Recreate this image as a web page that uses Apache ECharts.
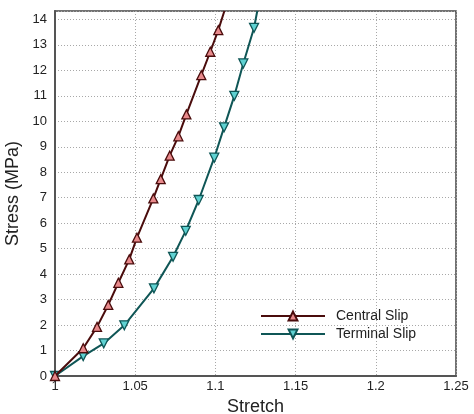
<!DOCTYPE html>
<html>
<head>
<meta charset="utf-8">
<script src="https://cdn.jsdelivr.net/npm/echarts@6/dist/echarts.min.js"></script>
<style>
html,body{margin:0;padding:0;background:#fff;}
#c{width:474px;height:414px;}
</style>
</head>
<body>
<div id="c"></div>
<script>
var centralX = [1, 1.0176, 1.0262, 1.0332, 1.0395, 1.0463, 1.0511, 1.0613, 1.0659, 1.0715, 1.0769, 1.0819, 1.0912, 1.0968, 1.1018];
var centralY = [0, 1.09, 1.93, 2.79, 3.66, 4.58, 5.43, 6.97, 7.73, 8.65, 9.41, 10.27, 11.81, 12.73, 13.58];
var centralEnd = [1.1056, 14.33];
var terminalX = [1, 1.0176, 1.0304, 1.0432, 1.0617, 1.0736, 1.0815, 1.0896, 1.0993, 1.1054, 1.1118, 1.1174, 1.1241];
var terminalY = [0, 0.78, 1.28, 1.99, 3.44, 4.68, 5.70, 6.91, 8.57, 9.76, 11.00, 12.27, 13.67];
var terminalEnd = [1.1261, 14.33];
var xTicks = [1, 1.05, 1.1, 1.15, 1.2, 1.25];

function build(xs, ys, end) {
  var d = xs.map(function (x, i) { return [x, ys[i]]; });
  d.push({ value: end, symbol: 'none' });
  return d;
}

var chart = echarts.init(document.getElementById('c'), null, { renderer: 'canvas' });
var font = 'Liberation Sans, Arial, sans-serif';
chart.setOption({
  animation: false,
  backgroundColor: '#fff',
  grid: { left: 55, top: 11, right: 18, bottom: 38, outerBoundsMode: 'none', containLabel: false,
    show: true, borderColor: '#444', borderWidth: 1.5, backgroundColor: 'transparent' },
  legend: {
    left: 255, top: 304, orient: 'vertical', itemWidth: 64, itemHeight: 11, itemGap: 4,
    textStyle: { fontFamily: font, fontSize: 14, color: '#222', padding: [0, 0, 0, 6] },
    data: ['Central Slip', 'Terminal Slip']
  },
  xAxis: {
    type: 'value', min: 1, max: 1.25, interval: 0.05,
    name: 'Stretch', nameLocation: 'middle', nameGap: 14,
    nameTextStyle: { fontFamily: font, fontSize: 18, color: '#222' },
    axisLine: { show: true, lineStyle: { color: '#555', width: 2 } },
    axisTick: { show: false },
    axisLabel: { fontFamily: font, fontSize: 13, color: '#222', margin: 4,
      formatter: function (v) { var r = Math.round(v * 100) / 100; return xTicks.indexOf(r) >= 0 ? String(r) : ''; } },
    splitLine: { show: true, lineStyle: { color: '#a8a8a8', type: [1, 2], width: 1 } }
  },
  yAxis: {
    type: 'value', min: 0, max: 14.33, interval: 1,
    name: 'Stress (MPa)', nameLocation: 'middle', nameGap: 26,
    nameTextStyle: { fontFamily: font, fontSize: 18, color: '#222' },
    axisLine: { show: true, lineStyle: { color: '#555', width: 2 } },
    axisTick: { show: false },
    axisLabel: { fontFamily: font, fontSize: 13, color: '#222', margin: 8, showMaxLabel: false,
      formatter: function (v) { return Math.abs(v - Math.round(v)) < 1e-6 ? String(Math.round(v)) : ''; } },
    splitLine: { show: true, lineStyle: { color: '#a8a8a8', type: [1, 2], width: 1 } }
  },
  series: [
    {
      name: 'Central Slip', type: 'line', data: build(centralX, centralY, centralEnd),
      symbol: 'triangle', symbolSize: 9, clip: true,
      lineStyle: { color: '#4a0c0c', width: 2 },
      itemStyle: { color: '#e8898b', borderColor: '#4a0c0c', borderWidth: 1.3 },
      z: 3
    },
    {
      name: 'Terminal Slip', type: 'line', data: build(terminalX, terminalY, terminalEnd),
      symbol: 'triangle', symbolRotate: 180, symbolSize: 9, clip: true,
      lineStyle: { color: '#0f5656', width: 2 },
      itemStyle: { color: '#5fd2d2', borderColor: '#0f5656', borderWidth: 1.3 },
      z: 2
    }
  ]
});
</script>
</body>
</html>
